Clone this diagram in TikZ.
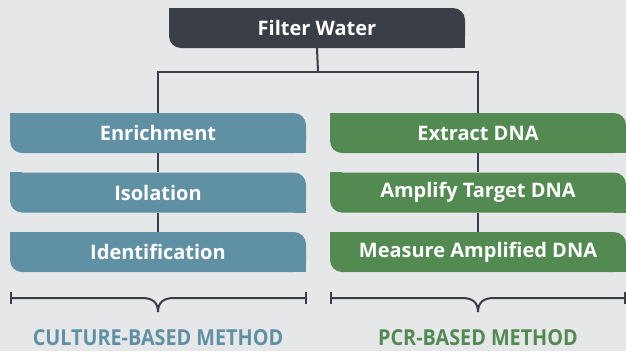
\documentclass[tikz,border=0pt]{standalone}
\usepackage{fontspec}
\setmainfont{Open Sans}
\newfontfamily\condfont[FakeStretch=0.9]{Open Sans}
\usetikzlibrary{positioning}

\definecolor{bgGray}{HTML}{E6E7E8}
\definecolor{darkLine}{HTML}{3A3E46}
\definecolor{cultureBlue}{HTML}{6090A3}
\definecolor{pcrGreen}{HTML}{528A52}

\tikzset{
  stepbox/.style={fill=#1, rounded corners=12pt, minimum width=296pt, minimum height=40pt,
    inner sep=0pt, text=white, font=\fontsize{20}{24}\selectfont\bfseries},
  link/.style={draw=darkLine, line width=2pt},
  bracket/.style={draw=darkLine, line width=2pt},
  methodlabel/.style={text=#1, inner sep=0pt, anchor=base,
    font=\condfont\fontsize{22}{26}\selectfont\bfseries},
}

\begin{document}
\begin{tikzpicture}[x=1pt,y=-1pt]
\fill[bgGray] (0,0) rectangle (626,351);
\useasboundingbox (0,0) rectangle (626,351);

\node[stepbox=darkLine] (water) at (317,28) {Filter Water};
\fill[darkLine] (water.north west) rectangle ([xshift=12pt,yshift=-12pt]water.north west);
\fill[darkLine] (water.south east) rectangle ([xshift=-12pt,yshift=12pt]water.south east);

\foreach \t [count=\n] in {Enrichment,Isolation,Identification}
  \node[stepbox=cultureBlue] (C\n) at (158,{133+59.5*(\n-1)}) {\t};
\foreach \t [count=\n] in {Extract DNA,Amplify Target DNA,Measure Amplified DNA}
  \node[stepbox=pcrGreen] (P\n) at (478,{133+59.5*(\n-1)}) {\t};

% square off two corners of every box
\foreach \n in {1,2,3} {
  \fill[cultureBlue] (C\n.north west) rectangle ([xshift=12pt,yshift=-12pt]C\n.north west);
  \fill[cultureBlue] (C\n.south east) rectangle ([xshift=-12pt,yshift=12pt]C\n.south east);
  \fill[pcrGreen] (P\n.north west) rectangle ([xshift=12pt,yshift=-12pt]P\n.north west);
  \fill[pcrGreen] (P\n.south east) rectangle ([xshift=-12pt,yshift=12pt]P\n.south east);
}

\coordinate (split) at (318,72);
\draw[link] (water.south) -- (split);
\draw[link] (split) -| (C1.north);
\draw[link] (split) -| (P1.north);
\draw[link] (C1.south) -- (C2.north);
\draw[link] (C2.south) -- (C3.north);
\draw[link] (P1.south) -- (P2.north);
\draw[link] (P2.south) -- (P3.north);

\foreach \a/\m/\b in {11/158/306,331/478/625} {
  \draw[bracket] (\a,292) -- (\a,304);
  \draw[bracket] (\b,292) -- (\b,304);
  \draw[bracket] (\a,298) -- ({\m-16},298) .. controls ({\m-6},298) and (\m,302) .. (\m,312)
    .. controls (\m,302) and ({\m+6},298) .. ({\m+16},298) -- (\b,298);
}

\node[methodlabel=cultureBlue] (cultureLbl) at (158,345) {CULTURE-BASED METHOD};
\node[methodlabel=pcrGreen] (pcrLbl) at (478,345) {PCR-BASED METHOD};
\end{tikzpicture}
\end{document}
